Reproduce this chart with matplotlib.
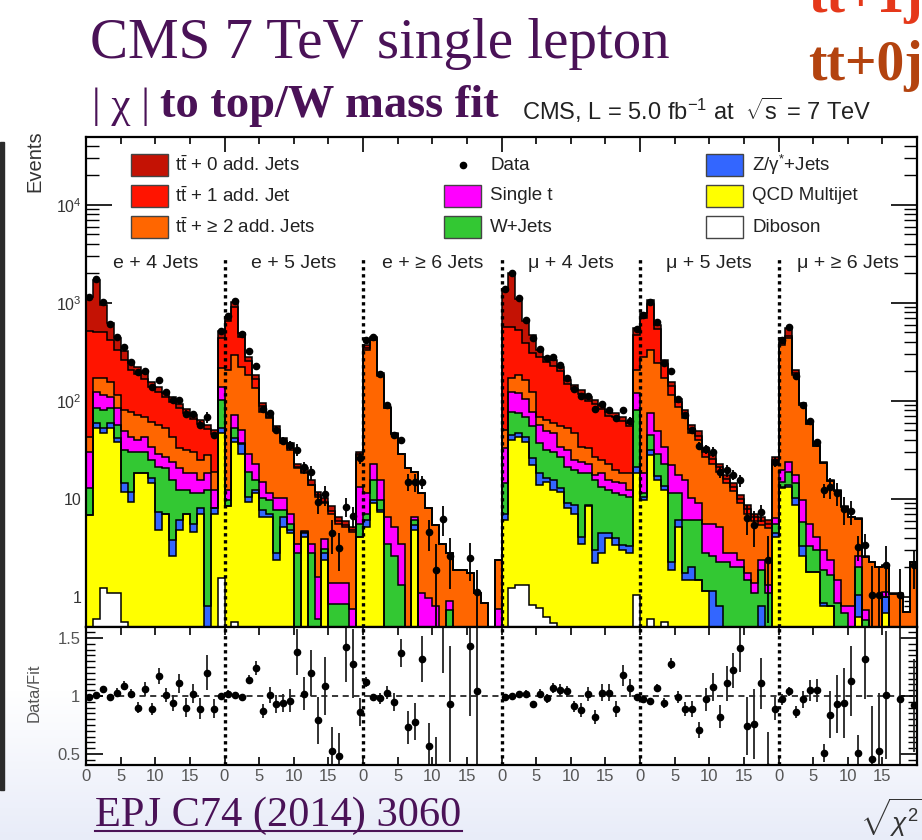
import numpy as np
import matplotlib.pyplot as plt
from matplotlib.patches import Rectangle
from matplotlib.lines import Line2D
from matplotlib.ticker import FixedLocator, MultipleLocator, LogLocator, FuncFormatter, NullFormatter

plt.rcParams['font.family'] = ['Liberation Sans', 'DejaVu Sans']
plt.rcParams['mathtext.fontset'] = 'custom'
plt.rcParams['mathtext.rm'] = 'Liberation Sans'
plt.rcParams['mathtext.it'] = 'Liberation Sans:italic'
plt.rcParams['mathtext.bf'] = 'Liberation Sans:bold'

# six channels, 20 bins of sqrt(chi2) each
channels = ['e + 4 Jets', 'e + 5 Jets', 'e + \u2265 6 Jets',
            '\u03bc + 4 Jets', '\u03bc + 5 Jets', '\u03bc + \u2265 6 Jets']
n_bins = 20

# stacked heights: each list = that process plus everything stacked below it
stack_diboson = [
    [0, 0.6, 1.23, 1.09, 1.09, 0.56, 0, 0, 0, 0, 0, 0, 0, 0, 0, 0, 0, 0, 0, 1.55],
    [0, 0.55, 0, 0, 0, 0, 0, 0, 0, 0, 0, 0, 0, 0, 0, 0, 0, 0, 0, 0],
    [0] * 20,
    [0, 1.23, 1.33, 1.33, 0.82, 0.78, 0.63, 0.54, 0, 0, 0, 0, 0, 0, 0, 0, 0, 0, 0, 1.05],
    [0, 0.6, 0, 0.55, 0, 0, 0, 0, 0, 0, 0, 0, 0, 0, 0, 0, 0, 0, 0, 0],
    [0] * 20,
]
stack_qcd = [
    [6.8, 53, 47, 53, 38.5, 11.9, 9.4, 18.3, 18.3, 14.5, 4.8, 7.1, 2.6, 4.8, 7.1, 4.6, 7.1, 0, 7.1, 47],
    [8.4, 38.5, 29, 9.4, 11.4, 6.6, 6.6, 2.4, 5.2, 4.5, 0, 4.1, 0, 0, 2.4, 0, 0, 0, 0, 4.1],
    [5.2, 9.0, 7.4, 0, 0, 0, 0, 4.8, 0, 0, 0, 0, 0, 0, 0, 0, 0, 0, 0, 0],
    [6.1, 40, 43, 38.5, 22, 14, 15, 12.4, 11.9, 8.0, 7.1, 3.5, 8.4, 2.2, 2.8, 4.0, 3.4, 3.0, 2.8, 18.3],
    [9.8, 28, 15.6, 12.4, 1.9, 5.2, 1.49, 1.5, 1.49, 1.15, 0, 0, 0, 0, 0, 0, 0, 0, 0, 4.1],
    [12.9, 13.4, 8.7, 2.6, 1.81, 1.81, 0.8, 0.8, 0, 0, 0, 0.63, 0, 0, 0, 0.68, 0, 0, 0, 0],
]
stack_zjets = [
    [6.8, 59, 53, 59, 42, 14.5, 11.9, 18.3, 18.3, 16.2, 7.4, 7.1, 3.8, 6.1, 7.1, 5.6, 8.0, 0.8, 8.0, 53],
    [8.4, 42, 36, 10.6, 12.4, 7.7, 7.1, 2.8, 6.6, 4.8, 0, 4.5, 0, 0, 2.8, 0, 0, 0, 0, 4.1],
    [6.1, 9.8, 7.7, 0, 0, 0, 0, 5.4, 0, 0, 0, 0, 0, 0, 0, 0, 0, 0, 0, 0],
    [7.1, 45, 47, 43, 26, 18.3, 16.2, 15.6, 12.9, 9.0, 8.7, 4.1, 8.7, 3.0, 4.5, 4.5, 4.0, 3.4, 3.3, 21.4],
    [10.4, 31.6, 17, 13.5, 2.3, 6.1, 1.74, 2.0, 1.49, 1.15, 1.15, 0.8, 0, 0, 0, 0, 0, 0.8, 0, 4.5],
    [13.4, 13.9, 10.2, 3.3, 1.81, 1.81, 0.86, 0.8, 0, 0, 0, 1.04, 0, 0, 0, 1.0, 0, 0, 0, 0],
]
stack_wjets = [
    [12.9, 84, 81, 84, 57, 31.6, 30.4, 30.4, 30.4, 25, 21.4, 20.6, 15.6, 12.4, 12.4, 11.4, 11.4, 12.4, 8.0, 102],
    [9.8, 53, 37, 19, 15.6, 10.2, 9.8, 7.7, 7.7, 5.6, 2.8, 4.6, 2.8, 0.6, 3.1, 0.85, 0.85, 0.85, 0, 5.6],
    [7.1, 15.6, 9.8, 3.5, 2.6, 1.33, 0, 6.1, 0, 0, 0, 0, 0.74, 0, 0, 0, 0, 0, 0, 0],
    [14.5, 78, 75, 69, 55, 37, 31.6, 30.4, 27, 21.4, 19.8, 18.3, 18.3, 15.6, 13.4, 12.4, 11.4, 11, 10.6, 81],
    [11.4, 45, 29, 23, 11.4, 11.4, 6.1, 6.1, 6.1, 2.8, 2.6, 2.3, 2.3, 2.0, 2.0, 1.49, 1.09, 1.9, 1.09, 5.6],
    [15, 19, 14.5, 5.8, 3.3, 3.0, 1.9, 1.67, 0.86, 0.68, 0, 2.0, 0.58, 0, 0, 1.0, 0, 0, 0, 0],
]
stack_singlet = [
    [30.4, 124, 115, 111, 84, 49, 43, 40, 43, 34, 29, 27, 24, 20.6, 18.3, 18.3, 15.6, 18.3, 12.4, 140],
    [12.4, 72, 51, 29, 23, 15, 11.4, 10.2, 10.2, 7.1, 3.5, 4.7, 3.5, 1.6, 3.9, 1.4, 1.4, 1.4, 0.75, 13.4],
    [11.4, 23, 15.6, 6.6, 5.2, 3.5, 0, 6.6, 1.09, 0.97, 0.8, 0, 0.92, 0, 0, 0, 0, 0, 0, 0.75],
    [33, 124, 120, 106, 78, 57, 49, 47, 34, 31.6, 25, 24, 23, 17.6, 18.3, 15.6, 15, 14.5, 12.4, 120],
    [18.3, 75, 49, 34, 22, 17.6, 15.6, 10.2, 9.0, 5.6, 5.6, 5.2, 2.8, 2.8, 2.4, 1.74, 1.38, 2.4, 1.33, 6.35],
    [19.8, 24, 17.6, 9.8, 5.6, 4.1, 3.0, 2.4, 1.49, 0.8, 0.8, 2.6, 0.74, 0, 0, 1.13, 0, 0, 0, 0],
]
stack_tt2 = [
    [43, 170, 170, 157, 115, 81, 78, 72, 69, 61.5, 57, 53, 43, 33, 31.6, 30.4, 25, 28, 19, 215],
    [207, 295, 224, 185, 135, 78, 66.5, 49, 37, 31.6, 20.6, 18.3, 14, 10.6, 9.0, 7.1, 5.6, 5.2, 4.6, 28],
    [330, 420, 180, 84, 46, 29, 20.6, 19, 11.4, 8.0, 5.4, 3.5, 2.8, 1.9, 1.9, 1.74, 1.09, 0.86, 0, 2.4],
    [51, 170, 185, 164, 124, 69, 64, 59, 55, 53, 47, 34, 33, 27, 25, 23, 19.8, 18.3, 18.3, 207],
    [283, 331, 242, 170, 115, 87.5, 66.5, 47, 40, 27, 23, 19, 14.5, 12, 9, 7.1, 5.9, 5.4, 5.0, 23],
    [372, 435, 185, 92, 58, 35, 23.5, 15.3, 12.2, 8.2, 6.5, 6.3, 2.55, 2.25, 2.0, 2.05, 1.07, 1.07, 0.7, 2.25],
]
stack_tt1 = [
    [520, 510, 500, 419, 331, 262, 207, 189, 166, 140, 124, 109, 98, 84, 75, 65, 58, 52, 46, 435],
    [650, 918, 445, 258, 168, 88, 68, 50, 39, 33, 21, 19, 14, 11, 9.4, 7.6, 6.0, 5.4, 4.8, 29],
    [350, 440, 185, 85, 46, 29, 20.6, 19, 11.4, 8.0, 5.4, 3.5, 2.8, 1.9, 1.9, 1.74, 1.09, 0.86, 0, 2.4],
    [574, 574, 530, 387, 306, 283, 252, 230, 200, 148, 132, 117, 100, 93, 83, 71, 68, 63, 56, 470],
    [710, 970, 545, 237, 142, 97, 74, 52, 44, 30, 25.5, 21, 16, 13.2, 10, 7.9, 6.5, 6.0, 5.5, 25],
    [387, 460, 192, 92, 58, 35, 23.5, 15.3, 12.2, 8.2, 6.5, 6.3, 2.55, 2.25, 2.0, 2.05, 1.07, 1.07, 0.7, 2.25],
]
stack_tt0 = [
    [1160, 1720, 955, 621, 440, 326, 246, 220, 192, 157, 140, 121, 109, 93, 82, 72, 64, 57, 50, 520],
    [726, 1030, 490, 283, 185, 95, 75, 55, 42, 37, 23, 20.6, 15.6, 11.9, 10.2, 8.4, 6.6, 5.9, 5.2, 30.4],
    [372, 453, 192, 87.5, 47, 29, 20.6, 19, 11.4, 8.0, 5.4, 3.5, 2.8, 1.9, 1.9, 1.74, 1.09, 0.86, 0, 2.4],
    [1400, 2030, 1110, 650, 470, 331, 283, 262, 224, 164, 146, 129, 111, 102, 91, 78, 75, 69, 59, 550],
    [785, 1074, 600, 262, 157, 106, 81, 57, 49, 33, 28, 23, 17.6, 14.5, 11, 8.7, 7.1, 6.6, 6.1, 27],
    [435, 550, 207, 94.6, 59, 36, 24, 15.6, 12.4, 8.4, 6.6, 6.4, 2.6, 2.3, 2.0, 2.1, 1.09, 1.09, 0.7, 2.3],
]

# data / fit per bin and its uncertainty (0 = no data in that bin)
ratio = [
    [0.99, 1.01, 1.06, 0.99, 1.03, 1.09, 1.02, 0.90, 1.06, 0.89, 1.17, 1.01, 0.94, 1.11, 0.90, 1.02, 0.89, 1.20, 0.89, 1.00],
    [1.02, 1.01, 0.99, 1.14, 1.24, 0.87, 1.01, 0.93, 0.94, 0.96, 1.38, 1.02, 1.20, 0.79, 1.09, 0.53, 0.48, 1.42, 1.28, 0.86],
    [1.12, 0.99, 0.98, 1.03, 0.95, 1.37, 0.73, 0.78, 1.32, 0.57, 0.35, 1.80, 0.93, 0, 0, 1.43, 1.04, 0, 0, 0],
    [0.99, 1.00, 1.02, 1.02, 0.93, 1.02, 0.98, 1.07, 1.05, 1.04, 0.91, 0.88, 1.02, 0.82, 1.03, 1.03, 0.89, 1.18, 1.07, 0.99],
    [0.97, 0.96, 1.07, 0.94, 1.28, 0.99, 0.89, 0.89, 0.71, 0.97, 1.08, 0.82, 1.11, 1.22, 1.41, 0.74, 0.76, 1.11, 0.39, 0.89],
    [0.97, 1.04, 0.86, 0.97, 1.05, 1.05, 0.51, 0.84, 0.93, 0.94, 1.13, 0.51, 1.32, 0.46, 0.53, 1.01, 0, 0.97, 0, 0.92],
]
ratio_err = [
    [0.03, 0.02, 0.03, 0.03, 0.04, 0.04, 0.04, 0.05, 0.06, 0.05, 0.07, 0.06, 0.07, 0.08, 0.08, 0.08, 0.09, 0.15, 0.08, 0.03],
    [0.03, 0.02, 0.03, 0.04, 0.06, 0.06, 0.07, 0.08, 0.08, 0.10, 0.20, 0.14, 0.20, 0.20, 0.25, 0.20, 0.20, 0.30, 0.30, 0.12],
    [0.04, 0.03, 0.05, 0.06, 0.08, 0.12, 0.14, 0.16, 0.20, 0.20, 0.30, 0.60, 0.50, 0, 0, 0.60, 0.70, 0, 0, 0],
    [0.02, 0.02, 0.02, 0.03, 0.03, 0.04, 0.04, 0.04, 0.05, 0.05, 0.05, 0.06, 0.06, 0.06, 0.07, 0.07, 0.07, 0.09, 0.08, 0.03],
    [0.03, 0.02, 0.03, 0.04, 0.05, 0.05, 0.06, 0.07, 0.07, 0.10, 0.12, 0.10, 0.15, 0.15, 0.20, 0.25, 0.30, 0.22, 0.30, 0.10],
    [0.05, 0.04, 0.05, 0.07, 0.09, 0.10, 0.08, 0.20, 0.25, 0.30, 0.30, 0.15, 0.35, 0.45, 0.50, 0.55, 0, 0.80, 0, 0.40],
]

layers = [
    (stack_tt0, '#c41204', 't$\\bar{\\rm t}$ + 0 add. Jets'),
    (stack_tt1, '#ff1400', 't$\\bar{\\rm t}$ + 1 add. Jet'),
    (stack_tt2, '#ff6600', 't$\\bar{\\rm t}$ + \u2265 2 add. Jets'),
    (stack_singlet, '#ff00ff', 'Single t'),
    (stack_wjets, '#33c833', 'W+Jets'),
    (stack_zjets, '#3366ff', 'Z/\u03b3$^{*}$+Jets'),
    (stack_qcd, '#ffff00', 'QCD Multijet'),
    (stack_diboson, '#ffffff', 'Diboson'),
]

W, H = 922, 840
fig = plt.figure(figsize=(W / 100, H / 100), dpi=100)


def fx(px):
    return px / W


def fy(py):
    return 1 - py / H


# faint slide background towards the bottom
bg = fig.add_axes([0, 0, 1, 1], zorder=-10)
bg.axis('off')
shade = np.ones((H, 1, 3))
t = np.clip((np.arange(H) - 690) / (H - 690), 0, 1)[:, None]
shade[:, :, 0] = 1 - 0.09 * t
shade[:, :, 1] = 1 - 0.075 * t
shade[:, :, 2] = 1 - 0.025 * t
bg.imshow(shade, extent=[0, 1, 0, 1], aspect='auto')
bg.set_xlim(0, 1)
bg.set_ylim(0, 1)
bg.add_patch(Rectangle((0, fy(790)), fx(4), (790 - 142) / H, color='#2b2b2b'))

x0, x1 = 86, 917
ax = fig.add_axes([fx(x0), fy(627), (x1 - x0) / W, (627 - 137) / H])
rax = fig.add_axes([fx(x0), fy(765), (x1 - x0) / W, (765 - 627) / H])

edges = np.arange(6 * n_bins + 1)
centers = edges[:-1] + 0.5
floor = 1e-3

for lvl, col, _ in layers:
    h = np.clip(np.concatenate(lvl), floor, None)
    ax.stairs(h, edges, baseline=floor, fill=True, color=col, zorder=2)
    ax.stairs(h, edges, baseline=floor, color='black', lw=1.1, zorder=2.1)

total = np.concatenate(stack_tt0)
r = np.concatenate(ratio)
re = np.concatenate(ratio_err)
has = r > 0
data = r * total
ax.errorbar(centers[has], data[has], yerr=(re * total)[has], fmt='o', color='black',
            ms=4.5, elinewidth=1.3, capsize=0, zorder=5)

ymin, ymax = 0.494, 49400
ax.set_xlim(0, 120)
ax.set_yscale('log')
ax.set_ylim(ymin, ymax)
for b in range(20, 120, 20):
    ax.plot([b, b], [ymin, 3000], color='black', lw=2.4, ls=(0, (1, 1.1)), zorder=4)
for i, name in enumerate(channels):
    ax.text(20 * i + 10, (627 - 268) / 490, name, transform=ax.get_xaxis_transform(),
            ha='center', va='baseline', fontsize=14, color='#222222', zorder=6)

ax.xaxis.set_major_locator(FixedLocator(range(0, 121, 20)))
ax.xaxis.set_minor_locator(FixedLocator(range(0, 121, 5)))
ax.tick_params(axis='x', which='major', direction='in', length=10.5, width=1.2,
               top=True, bottom=True, labelbottom=False)
ax.tick_params(axis='x', which='minor', direction='in', length=5, width=1.2,
               top=True, bottom=True)
ax.yaxis.set_major_locator(LogLocator(base=10, numticks=12))
ax.yaxis.set_minor_locator(LogLocator(base=10, subs=np.arange(2, 10), numticks=12))
ax.yaxis.set_minor_formatter(NullFormatter())


def log_label(v, _):
    if v < 0.9 or v > 2e4:
        return ''
    if v < 2:
        return '1'
    if v < 20:
        return '10'
    return '$10^{%d}$' % round(np.log10(v))


ax.yaxis.set_major_formatter(FuncFormatter(log_label))
ax.tick_params(axis='y', which='major', direction='in', length=18.5, width=1.2,
               left=True, right=True, labelsize=11.5, pad=3, labelcolor='#333333')
ax.tick_params(axis='y', which='minor', direction='in', length=9.5, width=1.0,
               left=True, right=True)
for s in ax.spines.values():
    s.set_linewidth(1.6)
    s.set_zorder(6)

# legend drawn by hand in three columns
def afr(px, py):
    return (px - x0) / (x1 - x0), (627 - py) / 490


rows = [165, 196, 227]
legend_cols = [
    (131, 175, [layers[0], layers[1], layers[2]]),
    (444, 490, [None, layers[3], layers[4]]),
    (706, 752, [layers[5], layers[6], layers[7]]),
]
for bx, tx, entries in legend_cols:
    for ry, entry in zip(rows, entries):
        if entry is None:
            px, py = afr(bx + 19, ry)
            ax.plot([px], [py], 'o', color='black', ms=4.5, transform=ax.transAxes, zorder=7)
            lx, ly = afr(tx, ry)
            ax.text(lx, ly, 'Data', transform=ax.transAxes, va='center', ha='left',
                    fontsize=13.5, color='#222222', zorder=7)
            continue
        _, col, lab = entry
        rx, ry0 = afr(bx, ry + 11)
        ax.add_patch(Rectangle((rx, ry0), 37 / (x1 - x0), 22 / 490, transform=ax.transAxes,
                               facecolor=col, edgecolor='#444444', lw=1.0, zorder=7))
        lx, ly = afr(tx, ry)
        ax.text(lx, ly, lab, transform=ax.transAxes, va='center', ha='left',
                fontsize=13.5, color='#222222', zorder=7)

# ratio panel
rax.set_xlim(0, 120)
rax.set_ylim(0.405, 1.595)
rax.axhline(1.0, color='black', lw=1.1, ls=(0, (4, 3)), zorder=3)
for b in range(20, 120, 20):
    rax.axvline(b, color='black', lw=2.4, ls=(0, (1, 1.1)), zorder=4)
rax.errorbar(centers[has], r[has], yerr=re[has], fmt='o', color='black', ecolor='#222222',
             ms=4.5, elinewidth=1.3, capsize=0, zorder=5)
rax.xaxis.set_major_locator(FixedLocator(range(0, 121, 5)))
rax.set_xticklabels([str(v % 20) if v < 120 else '' for v in range(0, 121, 5)])
rax.tick_params(axis='x', which='major', direction='in', length=6, width=1.2,
               top=True, bottom=True, labelsize=12, pad=3, labelcolor='#555555')
rax.yaxis.set_major_locator(FixedLocator([0.5, 1.0, 1.5]))
rax.set_yticklabels(['0.5', '1', '1.5'])
rax.yaxis.set_minor_locator(MultipleLocator(0.05))
rax.tick_params(axis='y', which='major', direction='in', length=12, width=1.2,
               left=True, right=True, labelsize=12, pad=4, labelcolor='#555555')
rax.tick_params(axis='y', which='minor', direction='in', length=6.5, width=1.0,
               left=True, right=True)
for s in rax.spines.values():
    s.set_linewidth(1.6)
    s.set_zorder(6)

# axis titles
fig.text(fx(35), fy(130), 'Events', rotation=90, ha='center', va='top', fontsize=14.5, color='#333333')
fig.text(fx(34), fy(693), 'Data/Fit', rotation=90, ha='center', va='center', fontsize=12, color='#555555')
fig.text(fx(522), fy(120), 'CMS, L = 5.0 fb$^{-1}$ at  $\\sqrt{\\mathrm{s}}$ = 7 TeV', fontsize=17,
         ha='left', va='baseline', color='#222222')
fig.text(fx(860), fy(832), '$\\sqrt{\\chi^{2}}$', fontsize=19, ha='left', va='baseline', color='#333333')

# slide headings
purple = '#4a1257'
fig.text(fx(90), fy(58), 'CMS 7 TeV single lepton', family='Liberation Serif', fontsize=41,
         color=purple, ha='left', va='baseline')
fig.text(fx(92), fy(117), '| \u03c7 |', family='Liberation Serif', fontsize=31,
         color=purple, ha='left', va='baseline')
fig.text(fx(160), fy(117), 'to top/W mass fit', family='Liberation Serif', fontsize=33.5,
         fontweight='bold', color=purple, ha='left', va='baseline')
fig.text(fx(808), fy(80), 'tt+0j', family='Liberation Serif', fontsize=40, fontweight='bold',
         color='#b3430f', ha='left', va='baseline')
fig.text(fx(808), fy(12), 'tt+1j', family='Liberation Serif', fontsize=40, fontweight='bold',
         color='#e5381a', ha='left', va='baseline')
fig.text(fx(95), fy(826), 'EPJ C74 (2014) 3060', family='Liberation Serif', fontsize=30.5,
         color=purple, ha='left', va='baseline')
fig.add_artist(Line2D([fx(95), fx(462)], [fy(831), fy(831)], color=purple, lw=1.5))

fig.savefig('out.png', dpi=100)
